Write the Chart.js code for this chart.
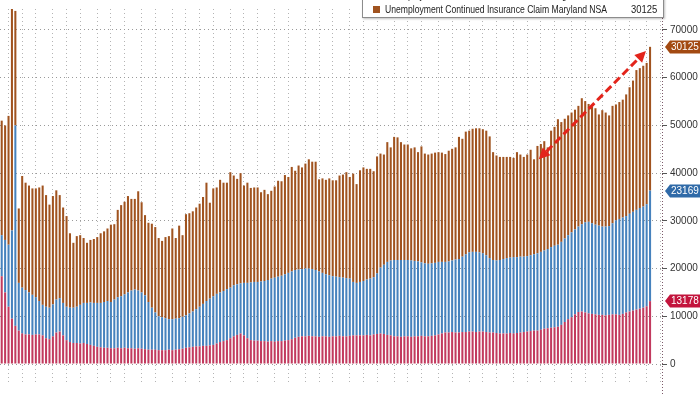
<!DOCTYPE html>
<html>
<head>
<meta charset="utf-8">
<script src="https://cdn.jsdelivr.net/npm/chart.js@4.4.1/dist/chart.umd.min.js"></script>
<style>
  html, body { margin: 0; padding: 0; background: #fff; }
  #wrap { position: relative; width: 700px; height: 394px; overflow: hidden; }
  #legend {
    position: absolute; left: 362px; top: -14px; width: 302px;
    box-sizing: border-box; padding: 1px 6px 1px 10px;
    background: #fff; border: 1px solid #8c8c8c;
    box-shadow: 1px 1px 2px rgba(0,0,0,0.25);
    font: 10.5px "Liberation Sans", Arial, sans-serif;
    color: #222; white-space: nowrap;
  }
  .row { display: flex; align-items: center; height: 14px; position: relative; }
  .sw { width: 7px; height: 7px; margin-right: 5px; flex: none; }
  .name { display: inline-block; transform: scaleX(0.82); transform-origin: left center; }
  .val { position: absolute; right: 0; display: inline-block; transform: scaleX(0.9); transform-origin: right center; }
</style>
</head>
<body>
<div id="wrap">
  <canvas id="chart" width="700" height="394"></canvas>
  <div id="legend">
    <div class="row"><span class="sw" style="background:#4682bd"></span><span class="name">Unemployment Continued Insurance Claim Virginia NSA</span><span class="val">23169</span></div>
    <div class="row"><span class="sw" style="background:#a0531f"></span><span class="name">Unemployment Continued Insurance Claim Maryland NSA</span><span class="val">30125</span></div>
  </div>
</div>
<script>
// weekly NSA continued claims
const dcNSA = [18400,15000,12000,9500,8000,7000,6400,6200,6200,6100,
  6200,6200,6000,5400,5200,5800,6600,6800,6000,5000,
  4600,4400,4400,4300,4400,4200,4000,3800,3600,3500,
  3400,3400,3300,3300,3400,3300,3400,3300,3300,3200,
  3300,3200,3100,3000,3000,3000,2900,2900,2900,3000,
  2900,3000,3100,3200,3400,3500,3600,3700,3700,3800,
  3800,3900,4000,4300,4600,4800,5000,5400,5800,6100,
  6400,6000,5400,5000,4900,4900,4800,4800,4700,4800,
  4700,4800,4800,4900,5000,5200,5500,5700,5800,5800,
  5900,5800,5800,5700,5800,5800,5700,5800,5800,5900,
  5800,5800,5900,6000,6000,6000,6000,6100,6000,6200,
  6300,6400,6300,6100,6000,5800,5800,5700,5800,5800,
  5700,5800,5800,5900,5800,5800,5900,6000,6200,6400,
  6600,6600,6700,6600,6600,6700,6700,6800,6800,6700,
  6800,6800,6700,6600,6600,6500,6400,6400,6400,6500,
  6400,6500,6600,6700,6800,6900,7000,7000,7200,7400,
  7500,7600,7700,7800,8200,8800,9400,9800,10400,10900,
  11000,10800,10600,10500,10400,10300,10300,10200,10300,10400,
  10400,10300,10500,10800,11000,11200,11400,11600,11800,12100,
  13178];

const virginiaNSA = [8600,11000,13000,18500,42000,10000,9600,9300,8800,8400,
  7800,7000,6400,6600,6600,6700,6900,7000,6800,7000,
  7200,7400,7600,8100,8400,8600,8900,9000,9200,9300,
  9600,9800,9700,10200,10600,10900,11200,11700,12100,12400,
  12100,11800,11300,10000,8800,7800,7100,6900,6700,6400,
  6500,6500,6500,6700,6800,7100,7400,7800,8300,8800,
  9400,9800,10200,10400,10400,10500,10700,10600,10700,10600,
  10500,11000,11600,12100,12300,12300,12500,12600,12900,13100,
  13400,13500,13700,13900,14100,14200,14200,14100,14100,14200,
  14100,14100,13900,13700,13300,13000,12900,12600,12500,12300,
  12300,12200,12000,11200,11000,11200,11400,11600,11900,12000,
  12700,13800,14500,15300,15700,16000,16000,16100,16000,16000,
  16000,15800,15700,15400,15300,15200,15200,15200,15200,15000,
  14800,14900,15000,15300,15400,15800,16300,16600,16700,16800,
  16600,16400,16100,15600,15200,15200,15400,15600,15800,15800,
  16000,15900,15900,15800,15800,15900,16000,16200,16300,16400,
  16600,16900,17100,17200,17400,17500,17600,17800,17800,17900,
  18300,18900,19200,19000,18800,18700,18500,18600,18600,19100,
  19700,20100,20200,20200,20500,20700,20900,21100,21200,21400,
  23169];

const marylandNSA = [24000,24000,27000,48000,24000,15600,23400,22500,22400,22300,
  22800,23800,25000,23400,21600,22700,22900,21600,20000,19000,
  15600,13600,14800,14600,13600,12600,13100,13400,13800,14600,
  14800,15200,16200,15800,18300,19100,19400,20200,19200,19000,
  20800,18900,16800,16600,17600,17900,16400,16000,17000,17400,
  19000,16900,19400,17100,21200,21000,21000,21300,21600,22400,
  24800,20100,22600,22300,23600,22700,22300,24200,23000,22100,
  23100,20400,21000,19800,19800,19800,18700,19100,18000,18400,
  19100,20100,19800,20800,20100,21900,20800,21800,21300,22000,
  22900,22500,22700,19300,19800,19800,20300,20100,20200,21300,
  21600,22200,21300,22700,20700,23400,23800,23200,23000,22200,
  24500,23900,23100,25100,23700,25800,25700,24700,24200,24200,
  23500,23800,22900,24300,23000,22900,23000,23100,23000,22900,
  22600,23200,23400,23500,25600,24700,25700,25500,25800,25900,
  26000,26000,26100,25500,22600,22000,21600,21400,21200,21100,
  20800,22000,21400,20900,21300,22100,19900,22500,22600,22900,
  21300,24400,24900,26300,25100,25100,25100,25100,25100,25300,
  26400,25400,24700,24400,24400,23300,24400,23900,23200,24600,
  24300,24500,24700,25500,26500,27500,29300,29300,29500,29600,
  30125];

const yTicks = [0, 10000, 20000, 30000, 40000, 50000, 60000, 70000];

// week-ending dates, a few empty weeks at the right edge
const firstWeek = Date.UTC(2022, 0, 22);
const weekLabels = Array.from({ length: 194 }, (_, i) =>
  new Date(firstWeek + i * 7 * 864e5).toISOString().slice(0, 10));
const monthStart = weekLabels.map((d, i) => i > 0 && d.slice(5, 7) !== weekLabels[i - 1].slice(5, 7));

// red dashed arrow: [week index, value] at each end
const arrowFrom = [157.4, 42900];
const arrowTo = [188.8, 65600];

const colors = { dc: '#c23a5e', va: '#4682bd', md: '#a0531f' };
const tagColors = { dc: '#c3143c', va: '#2f6aa8', md: '#a34a12' };
const FONT = '"Liberation Sans", Arial, sans-serif';

// last-value tags on the right axis
const lastValueTags = {
  id: 'lastValueTags',
  afterDraw(chart) {
    const { ctx, chartArea, scales: { y } } = chart;
    const sets = chart.data.datasets;
    let cum = 0;
    ctx.save();
    // dotted axis line
    ctx.strokeStyle = '#7d5a6a';
    ctx.lineWidth = 1;
    ctx.setLineDash([1, 2]);
    ctx.beginPath();
    ctx.moveTo(chartArea.right + 0.5, 0);
    ctx.lineTo(chartArea.right + 0.5, chart.height);
    ctx.stroke();
    ctx.setLineDash([]);
    sets.forEach(ds => {
      const v = ds.data[ds.data.length - 1];
      cum += v;
      const py = Math.round(y.getPixelForValue(cum));
      const x0 = chartArea.right + 3;
      ctx.fillStyle = ds.tagColor;
      ctx.beginPath();
      ctx.moveTo(x0, py);
      ctx.lineTo(x0 + 5, py - 6.5);
      ctx.lineTo(chart.width, py - 6.5);
      ctx.lineTo(chart.width, py + 6.5);
      ctx.lineTo(x0 + 5, py + 6.5);
      ctx.closePath();
      ctx.fill();
      ctx.fillStyle = '#fff';
      ctx.font = '10px ' + FONT;
      ctx.textBaseline = 'middle';
      ctx.textAlign = 'left';
      ctx.fillText(String(v), x0 + 6, py + 0.5);
    });
    ctx.restore();
  }
};

const trendArrow = {
  id: 'trendArrow',
  afterDatasetsDraw(chart) {
    const { ctx, scales: { x, y } } = chart;
    const px = i => x.getPixelForValue(Math.floor(i)) + (i % 1) * (x.getPixelForValue(1) - x.getPixelForValue(0));
    const x1 = px(arrowFrom[0]), y1 = y.getPixelForValue(arrowFrom[1]);
    const x2 = px(arrowTo[0]), y2 = y.getPixelForValue(arrowTo[1]);
    const ang = Math.atan2(y2 - y1, x2 - x1);
    const head = 11, half = 5.5;
    const col = '#e3241b';
    ctx.save();
    ctx.strokeStyle = col;
    ctx.lineWidth = 3;
    ctx.setLineDash([8, 4]);
    ctx.beginPath();
    ctx.moveTo(x1 + Math.cos(ang) * head, y1 + Math.sin(ang) * head);
    ctx.lineTo(x2 - Math.cos(ang) * head, y2 - Math.sin(ang) * head);
    ctx.stroke();
    ctx.setLineDash([]);
    ctx.fillStyle = col;
    [[x2, y2, ang], [x1, y1, ang + Math.PI]].forEach(([tx, ty, a]) => {
      ctx.beginPath();
      ctx.moveTo(tx, ty);
      ctx.lineTo(tx - Math.cos(a) * head - Math.sin(a) * half, ty - Math.sin(a) * head + Math.cos(a) * half);
      ctx.lineTo(tx - Math.cos(a) * head + Math.sin(a) * half, ty - Math.sin(a) * head - Math.cos(a) * half);
      ctx.closePath();
      ctx.fill();
    });
    ctx.restore();
  }
};

new Chart(document.getElementById('chart'), {
  type: 'bar',
  data: {
    labels: weekLabels,
    datasets: [
      { label: 'Unemployment Continued Insurance Claim District of Columbia NSA', data: dcNSA, backgroundColor: colors.dc, tagColor: tagColors.dc },
      { label: 'Unemployment Continued Insurance Claim Virginia NSA', data: virginiaNSA, backgroundColor: colors.va, tagColor: tagColors.va },
      { label: 'Unemployment Continued Insurance Claim Maryland NSA', data: marylandNSA, backgroundColor: colors.md, tagColor: tagColors.md }
    ]
  },
  options: {
    responsive: false,
    animation: false,
    events: [],
    layout: { padding: 0 },
    datasets: { bar: { barPercentage: 0.6, categoryPercentage: 1.0, borderWidth: 0 } },
    plugins: { legend: { display: false }, tooltip: { enabled: false } },
    scales: {
      x: {
        stacked: true,
        offset: true,
        ticks: { display: false, autoSkip: false },
        grid: {
          offset: false,
          drawTicks: false,
          color: c => monthStart[c.index] ? '#b4b4b4' : 'rgba(0,0,0,0)'
        },
        border: { display: false, dash: [1, 3] }
      },
      y: {
        stacked: true,
        position: 'right',
        min: -4400,
        max: 74400,
        afterBuildTicks: s => { s.ticks = yTicks.map(v => ({ value: v })); },
        afterFit: s => { s.width = 38; },
        ticks: { color: '#333', font: { family: FONT, size: 10 }, padding: 3, callback: v => String(v) },
        grid: { color: '#9a9a9a', tickColor: '#555', tickLength: 5, tickBorderDash: [] },
        border: { display: false, dash: [1, 3] }
      }
    }
  },
  plugins: [trendArrow, lastValueTags]
});
</script>
</body>
</html>
